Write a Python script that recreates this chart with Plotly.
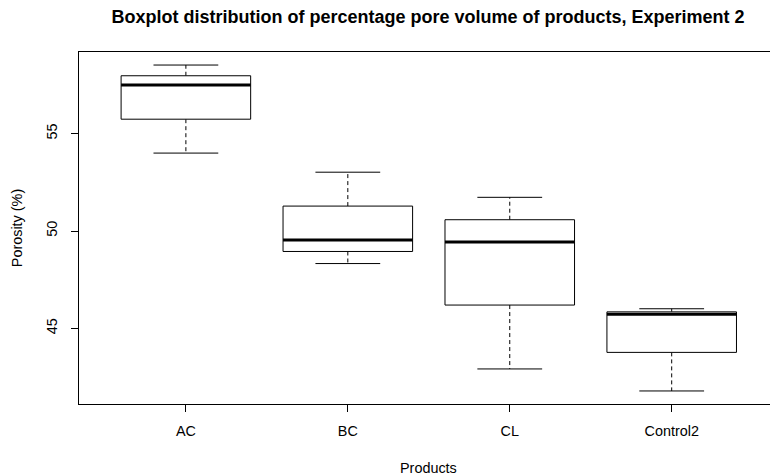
import plotly.graph_objects as go

categories = ["AC", "BC", "CL", "Control2"]
lower_whisker = [54.00, 48.33, 42.92, 41.79]
q1 = [55.74, 48.95, 46.20, 43.77]
median = [57.49, 49.54, 49.44, 45.73]
q3 = [57.97, 51.28, 50.58, 45.85]
upper_whisker = [58.52, 53.02, 51.73, 46.01]
y_ticks = [45, 50, 55]

BOX_HALF = 0.4
CAP_HALF = 0.2

box_x, box_y = [], []
med_x, med_y = [], []
wh_x, wh_y = [], []
cap_x, cap_y = [], []
for i in range(len(categories)):
    x = i + 1
    box_x += [x - BOX_HALF, x + BOX_HALF, x + BOX_HALF, x - BOX_HALF, x - BOX_HALF, None]
    box_y += [q1[i], q1[i], q3[i], q3[i], q1[i], None]
    med_x += [x - BOX_HALF, x + BOX_HALF, None]
    med_y += [median[i], median[i], None]
    wh_x += [x, x, None, x, x, None]
    wh_y += [q3[i], upper_whisker[i], None, q1[i], lower_whisker[i], None]
    cap_x += [x - CAP_HALF, x + CAP_HALF, None, x - CAP_HALF, x + CAP_HALF, None]
    cap_y += [upper_whisker[i], upper_whisker[i], None, lower_whisker[i], lower_whisker[i], None]

fig = go.Figure()
fig.add_trace(go.Scatter(x=wh_x, y=wh_y, mode="lines",
                         line=dict(color="black", width=1, dash="4px,3px"),
                         hoverinfo="skip", showlegend=False))
fig.add_trace(go.Scatter(x=cap_x, y=cap_y, mode="lines",
                         line=dict(color="black", width=1),
                         hoverinfo="skip", showlegend=False))
fig.add_trace(go.Scatter(x=box_x, y=box_y, mode="lines",
                         line=dict(color="black", width=1),
                         fill="toself", fillcolor="white",
                         hoverinfo="skip", showlegend=False))
fig.add_trace(go.Scatter(x=med_x, y=med_y, mode="lines",
                         line=dict(color="black", width=3),
                         hoverinfo="skip", showlegend=False))

lo = min(lower_whisker)
hi = max(upper_whisker)
pad = 0.04 * (hi - lo)

W, H = 770, 476
ML, MT, MB = 79, 52, 72
PW = W - ML
centre_x = (428 - ML) / PW

font = "Liberation Sans, Arial, Helvetica, sans-serif"
fig.update_layout(
    width=W, height=H,
    margin=dict(l=ML, r=0, t=MT, b=MB),
    paper_bgcolor="white", plot_bgcolor="white",
    font=dict(family=font, size=14.4, color="black"),
    title=dict(text="<b>Boxplot distribution of percentage pore volume of products, Experiment 2</b>",
               x=428 / W, xref="container", xanchor="center", y=1 - 17 / H, yanchor="middle",
               font=dict(size=18, family=font, color="black")),
    showlegend=False,
    annotations=[dict(text="Products", xref="paper", yref="paper",
                      x=centre_x, y=-(468 - (H - MB)) / (H - MT - MB),
                      xanchor="center", yanchor="middle", showarrow=False,
                      font=dict(size=14.4, family=font, color="black"))],
)
fig.update_xaxes(
    range=[0.34, 4.607], tickmode="array", tickvals=[1, 2, 3, 4], ticktext=categories,
    showgrid=False, zeroline=False, showline=True, linecolor="black", linewidth=1,
    mirror=True, ticks="outside", ticklen=7, tickcolor="black",
    ticklabelstandoff=7,
)
fig.update_yaxes(
    range=[lo - pad, hi + pad], tickmode="array", tickvals=y_ticks,
    ticktext=[str(v) for v in y_ticks], tickangle=-90,
    showgrid=False, zeroline=False, showline=True, linecolor="black", linewidth=1,
    ticks="outside", ticklen=7, tickcolor="black",
    ticklabelstandoff=8,
    title=dict(text="Porosity (%)", standoff=18, font=dict(size=14.4)),
)

fig.write_html("out.html")
